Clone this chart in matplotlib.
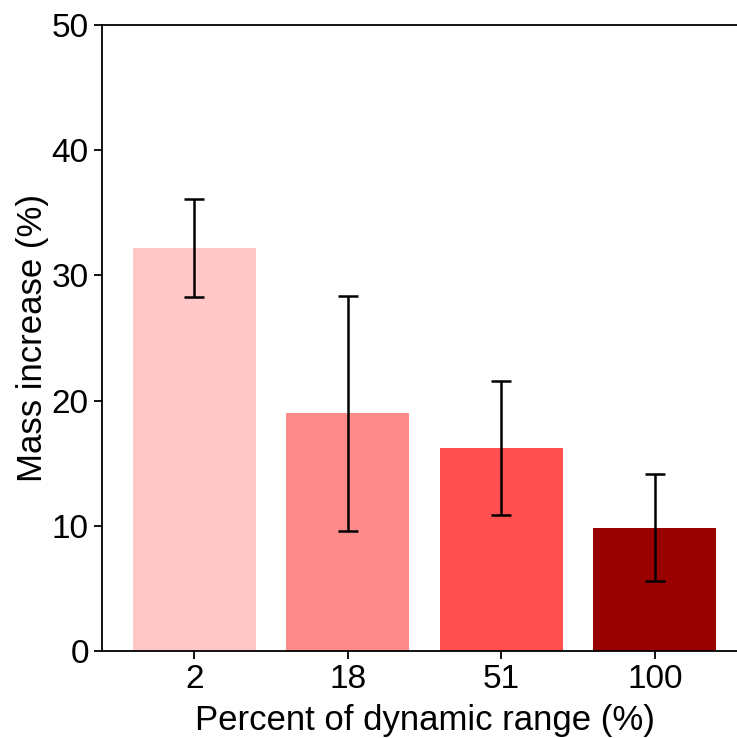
import numpy as np
import matplotlib.pyplot as plt
import matplotlib as mpl

mpl.rcParams['font.family'] = ['Liberation Sans', 'DejaVu Sans']

# data
dynamic_range = ['2', '18', '51', '100']
mass_increase = [32.2, 19.0, 16.2, 9.85]
mass_err = [3.9, 9.4, 5.35, 4.27]
bar_colors = ['#FFC7C7', '#FF8A8A', '#FF4F4F', '#990000']

fig = plt.figure(figsize=(7.37, 7.38), dpi=100)
ax = fig.add_axes([0.1384, 0.1179, 0.875, 0.848])

x = np.arange(len(dynamic_range))
ax.bar(x, mass_increase, width=0.8, color=bar_colors,
       yerr=mass_err, capsize=7,
       error_kw={'elinewidth': 1.8, 'capthick': 1.8, 'ecolor': 'black'})

ax.set_xticks(x)
ax.set_xticklabels(dynamic_range)
ax.set_xlim(-0.6, 3.6)
ax.set_ylim(0, 50)
ax.set_yticks([0, 10, 20, 30, 40, 50])
ax.tick_params(labelsize=24, width=1.3, length=6)
for side in ['left', 'bottom', 'top']:
    ax.spines[side].set_linewidth(1.3)
ax.spines['right'].set_visible(False)

ax.set_xlabel('Percent of dynamic range (%)', fontsize=25, labelpad=6)
ax.set_ylabel('Mass increase (%)', fontsize=25, labelpad=2)

plt.savefig('out.png', dpi=100)
